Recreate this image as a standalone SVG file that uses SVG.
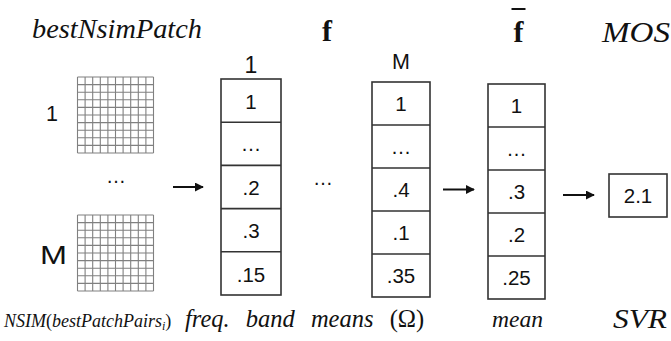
<svg xmlns="http://www.w3.org/2000/svg" width="671" height="341" viewBox="0 0 671 341">
  <defs>
    <style>
      .serif { font-family: "Liberation Serif", "Times New Roman", serif; fill: #111; }
      .it { font-style: italic; }
      .bold { font-weight: bold; }
      .sans { font-family: "Liberation Sans", Arial, sans-serif; fill: #111; }
      .cell { font-size: 20.5px; text-anchor: middle; }
      .col { fill: #fff; stroke: #333; stroke-width: 1.6; }
      .sep { stroke: #333; stroke-width: 1.6; }
      .grid { stroke: #808080; stroke-width: 1.1; fill: none; }
      .arrow { stroke: #111; stroke-width: 2; marker-end: url(#head); }
    </style>
    <marker id="head" viewBox="0 0 10 10" refX="9" refY="5" markerWidth="4.5" markerHeight="4.5" orient="auto" markerUnits="strokeWidth">
      <path d="M0,0 L10,5 L0,10 z" fill="#111"/>
    </marker>
    <!-- 10x10 patch grid -->
    <g id="patch">
      <path class="grid" d="M0,0 V76 M7.6,0 V76 M15.2,0 V76 M22.8,0 V76 M30.4,0 V76 M38,0 V76 M45.6,0 V76 M53.2,0 V76 M60.8,0 V76 M68.4,0 V76 M76,0 V76
                             M0,0 H76 M0,7.6 H76 M0,15.2 H76 M0,22.8 H76 M0,30.4 H76 M0,38 H76 M0,45.6 H76 M0,53.2 H76 M0,60.8 H76 M0,68.4 H76 M0,76 H76"/>
    </g>
  </defs>

  <!-- column headings -->
  <g id="headings">
    <text class="serif it" x="32" y="38" font-size="28" textLength="170" lengthAdjust="spacingAndGlyphs">bestNsimPatch</text>
    <text class="serif bold" x="327" y="41" font-size="30" text-anchor="middle">f</text>
    <text class="serif bold" x="518.5" y="41.5" font-size="30" text-anchor="middle">f</text>
    <line x1="511.5" y1="9" x2="525.5" y2="9" stroke="#111" stroke-width="2"/>
    <text class="serif it" x="602" y="41.5" font-size="29" textLength="68" lengthAdjust="spacingAndGlyphs">MOS</text>
  </g>

  <!-- input patches -->
  <g id="patches">
    <text class="sans" x="46" y="121" font-size="21.5">1</text>
    <use href="#patch" x="77.5" y="77"/>
    <text class="sans" x="116" y="183" font-size="20" text-anchor="middle">…</text>
    <text class="sans" x="40" y="263.5" font-size="25" textLength="27" lengthAdjust="spacingAndGlyphs">M</text>
    <use href="#patch" x="77.5" y="215"/>
  </g>

  <!-- band-means vector of patch 1 -->
  <g id="vec1">
    <text class="sans" x="251" y="72.5" font-size="23" text-anchor="middle">1</text>
    <rect class="col" x="221" y="79" width="60" height="216"/>
    <path class="sep" d="M221,122.2 H281 M221,165.4 H281 M221,208.6 H281 M221,251.8 H281"/>
    <text class="sans cell" x="251" y="108.5">1</text>
    <text class="sans cell" x="251" y="151">…</text>
    <text class="sans cell" x="251" y="195">.2</text>
    <text class="sans cell" x="251" y="238">.3</text>
    <text class="sans cell" x="251" y="281.5">.15</text>
  </g>

  <text class="sans" x="323" y="185" font-size="20" text-anchor="middle">…</text>

  <!-- band-means vector of patch M -->
  <g id="vecM">
    <text class="sans" x="401" y="68.5" font-size="21.5" text-anchor="middle">M</text>
    <rect class="col" x="372" y="82" width="58" height="215"/>
    <path class="sep" d="M372,125 H430 M372,168 H430 M372,211 H430 M372,254 H430"/>
    <text class="sans cell" x="401" y="111">1</text>
    <text class="sans cell" x="401" y="153.5">…</text>
    <text class="sans cell" x="401" y="197">.4</text>
    <text class="sans cell" x="401" y="240">.1</text>
    <text class="sans cell" x="401" y="283">.35</text>
  </g>

  <!-- averaged vector -->
  <g id="vecMean">
    <rect class="col" x="488" y="84" width="57" height="215"/>
    <path class="sep" d="M488,127 H545 M488,170 H545 M488,213 H545 M488,256 H545"/>
    <text class="sans cell" x="516.5" y="113">1</text>
    <text class="sans cell" x="516.5" y="155.5">…</text>
    <text class="sans cell" x="516.5" y="199">.3</text>
    <text class="sans cell" x="516.5" y="242">.2</text>
    <text class="sans cell" x="516.5" y="285">.25</text>
  </g>

  <!-- predicted score -->
  <g id="score">
    <rect class="col" x="609" y="174" width="58" height="43"/>
    <text class="sans cell" x="638" y="203">2.1</text>
  </g>

  <!-- connectors -->
  <g id="connectors">
    <line class="arrow" x1="173" y1="187" x2="203" y2="187"/>
    <line class="arrow" x1="443" y1="189.5" x2="474" y2="189.5"/>
    <line class="arrow" x1="563" y1="195" x2="594" y2="195"/>
  </g>

  <!-- stage captions -->
  <g id="captions">
    <text class="serif" x="4" y="327" font-size="18"><tspan class="it">NSIM</tspan>(<tspan class="it">bestPatchPairs</tspan><tspan class="it" font-size="12" dy="3">i</tspan><tspan dy="-3">)</tspan></text>
    <text class="serif it" x="185" y="327" font-size="24.5" word-spacing="10">freq. band means <tspan font-style="normal">(Ω)</tspan></text>
    <text class="serif it" x="492" y="327" font-size="24" textLength="51" lengthAdjust="spacingAndGlyphs">mean</text>
    <text class="serif it" x="613" y="328" font-size="28" textLength="54" lengthAdjust="spacingAndGlyphs">SVR</text>
  </g>
</svg>
